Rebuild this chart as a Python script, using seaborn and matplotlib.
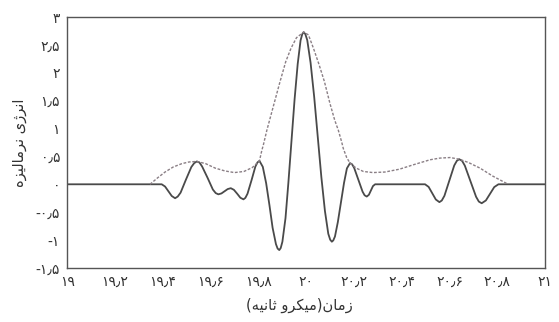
import re
import matplotlib
matplotlib.use("Agg")
import matplotlib.pyplot as plt
import seaborn as sns
import pandas as pd

# Time axis (microseconds) and normalised energy of the received pulse
pulse_t = [19.0, 19.396, 19.41, 19.424, 19.438, 19.452,
           19.463, 19.475, 19.497, 19.520, 19.532, 19.543,
           19.554, 19.565, 19.588, 19.610, 19.622, 19.633,
           19.646, 19.659, 19.672, 19.685,
           19.698, 19.712, 19.725, 19.738,
           19.746, 19.755, 19.772, 19.788, 19.797, 19.805,
           19.819, 19.833, 19.847, 19.860, 19.874, 19.881, 19.888,
           19.894, 19.901, 19.914, 19.926, 19.939, 19.952, 19.965, 19.977,
           19.984, 19.99,
           19.997, 20.005, 20.019, 20.034, 20.049, 20.064, 20.079, 20.093,
           20.101, 20.108,
           20.114, 20.121, 20.133, 20.146, 20.159, 20.171, 20.184,
           20.193, 20.2015, 20.219, 20.2365, 20.245, 20.254,
           20.263, 20.2715, 20.28, 20.289,
           20.498, 20.513, 20.528, 20.543, 20.558,
           20.568, 20.579, 20.5995, 20.62, 20.631, 20.641,
           20.653, 20.6645, 20.688, 20.7115, 20.723, 20.735,
           20.7525, 20.77, 20.7875, 20.805, 21.0]
pulse_e = [0.0, 0.0, -0.04, -0.125, -0.21, -0.25,
           -0.22, -0.15, 0.08, 0.31, 0.38, 0.41,
           0.39, 0.32, 0.115, -0.094, -0.158, -0.18,
           -0.164, -0.125, -0.086, -0.07,
           -0.099, -0.17, -0.241, -0.27,
           -0.244, -0.169, 0.075, 0.319, 0.394, 0.42,
           0.313, 0.02, -0.38, -0.78, -1.073, -1.153, -1.18,
           -1.143, -1.031, -0.607, 0.026, 0.775, 1.524, 2.157, 2.581,
           2.692, 2.73,
           2.694, 2.587, 2.179, 1.57, 0.85, 0.13, -0.479, -0.887,
           -0.994, -1.03,
           -1.006, -0.936, -0.678, -0.325, 0.028, 0.286, 0.38,
           0.357, 0.292, 0.08, -0.132, -0.197, -0.22,
           -0.188, -0.11, -0.032, 0.0,
           0.0, -0.047, -0.16, -0.273, -0.32,
           -0.291, -0.207, 0.065, 0.337, 0.421, 0.45,
           0.42, 0.334, 0.055, -0.224, -0.31, -0.34,
           -0.29, -0.17, -0.05, 0.0, 0.0]

# Envelope of the pulse
env_t = [19.347, 19.38, 19.41, 19.444, 19.48, 19.51, 19.543,
         19.58, 19.62, 19.66, 19.70, 19.74, 19.775, 19.805,
         19.815, 19.821, 19.836, 19.86, 19.891, 19.915, 19.937, 19.96, 19.99,
         20.01, 20.031, 20.055, 20.077, 20.10, 20.12, 20.135, 20.149, 20.156,
         20.17, 20.184, 20.21, 20.24, 20.28, 20.33, 20.39, 20.449, 20.519,
         20.56, 20.603, 20.641, 20.68, 20.728, 20.78, 20.833, 20.845]
env_e = [0.0, 0.12, 0.22, 0.31, 0.37, 0.40, 0.41,
         0.37, 0.29, 0.24, 0.21, 0.23, 0.30, 0.42,
         0.61, 0.70, 0.97, 1.35, 1.84, 2.20, 2.44, 2.63, 2.73,
         2.68, 2.44, 2.14, 1.84, 1.45, 1.15, 0.97, 0.76, 0.64,
         0.48, 0.38, 0.29, 0.23, 0.21, 0.22, 0.27, 0.35, 0.44,
         0.47, 0.48, 0.45, 0.39, 0.29, 0.15, 0.03, 0.0]

x_ticks = [19.0, 19.2, 19.4, 19.6, 19.8, 20.0, 20.2, 20.4, 20.6, 20.8, 21.0]
x_tick_labels = ["۱۹", "۱۹٫۲", "۱۹٫۴", "۱۹٫۶", "۱۹٫۸", "۲۰",
                 "۲۰٫۲", "۲۰٫۴", "۲۰٫۶", "۲۰٫۸", "۲۱"]
y_ticks = [-1.5, -1.0, -0.5, 0.0, 0.5, 1.0, 1.5, 2.0, 2.5, 3.0]
y_tick_labels = ["-۱٫۵", "-۱", "-۰٫۵", "۰", "۰٫۵", "۱", "۱٫۵", "۲", "۲٫۵", "۳"]

x_title = "زمان(میکرو ثانیه)"
y_title = "انرژی نرمالیزه"

# matplotlib lays glyphs out left to right without Arabic shaping, so the
# contextual letter forms and the right-to-left order are applied here.
# Each entry: (isolated, final, initial, medial); right-joining letters
# only have isolated and final forms.
FORMS = {
    "ا": ("\uFE8D", "\uFE8E", None, None),
    "ث": ("\uFE99", "\uFE9A", "\uFE9B", "\uFE9C"),
    "ر": ("\uFEAD", "\uFEAE", None, None),
    "ز": ("\uFEAF", "\uFEB0", None, None),
    "ژ": ("\uFB8A", "\uFB8B", None, None),
    "ک": ("\uFB8E", "\uFB8F", "\uFB90", "\uFB91"),
    "ل": ("\uFEDD", "\uFEDE", "\uFEDF", "\uFEE0"),
    "م": ("\uFEE1", "\uFEE2", "\uFEE3", "\uFEE4"),
    "ن": ("\uFEE5", "\uFEE6", "\uFEE7", "\uFEE8"),
    "ه": ("\uFEE9", "\uFEEA", "\uFEEB", "\uFEEC"),
    "و": ("\uFEED", "\uFEEE", None, None),
    "ی": ("\uFBFC", "\uFBFD", "\uFBFE", "\uFBFF"),
}
MIRROR = {"(": ")", ")": "("}


def shape_word(word):
    out = []
    n = len(word)
    for i, ch in enumerate(word):
        if ch not in FORMS:
            out.append(ch)
            continue
        iso, fin, ini, med = FORMS[ch]
        prev = word[i - 1] if i > 0 else None
        nxt = word[i + 1] if i < n - 1 else None
        join_prev = prev in FORMS and FORMS[prev][2] is not None
        join_next = nxt in FORMS and ini is not None
        if join_prev and join_next:
            out.append(med)
        elif join_prev:
            out.append(fin)
        elif join_next:
            out.append(ini)
        else:
            out.append(iso)
    return "".join(reversed(out))


def shape_rtl(text):
    # split into Arabic runs and single other characters, then lay the
    # phrase out right to left with mirrored brackets
    tokens = re.findall(r"[\u0600-\u06FF]+|.", text)
    shaped = [shape_word(t) if t[0] in FORMS else MIRROR.get(t, t)
              for t in tokens]
    return "".join(reversed(shaped))


sns.set_theme(style="white")
plt.rcParams["font.family"] = ["DejaVu Sans"]

pulse = pd.DataFrame({"t": pulse_t, "e": pulse_e})
envelope = pd.DataFrame({"t": env_t, "e": env_e})

fig = plt.figure(figsize=(5.59, 3.22), dpi=100)
ax = fig.add_axes([0.12, 0.168, 0.855, 0.779])

sns.lineplot(data=pulse, x="t", y="e", ax=ax, sort=False, estimator=None,
             color="#4a4a4a", linewidth=1.3)
sns.lineplot(data=envelope, x="t", y="e", ax=ax, sort=False, estimator=None,
             color="#8a7f85", linewidth=1.0, linestyle=(0, (2, 1.2)))

ax.set_xlim(19, 21)
ax.set_ylim(-1.5, 3)
ax.set_xticks(x_ticks)
ax.set_xticklabels(x_tick_labels)
ax.set_yticks(y_ticks)
ax.set_yticklabels(y_tick_labels)
ax.tick_params(axis="both", length=0, labelsize=10, colors="#333333", pad=5)

for s in ax.spines.values():
    s.set_color("#555555")
    s.set_linewidth(1.0)

ax.set_xlabel(shape_rtl(x_title), fontsize=10.5, color="#333333", labelpad=5)
ax.set_ylabel(shape_rtl(y_title), fontsize=10.5, color="#333333", labelpad=6)
ax.xaxis.set_label_coords(0.485, -0.12)

fig.savefig("out.png", dpi=100, facecolor="white")
